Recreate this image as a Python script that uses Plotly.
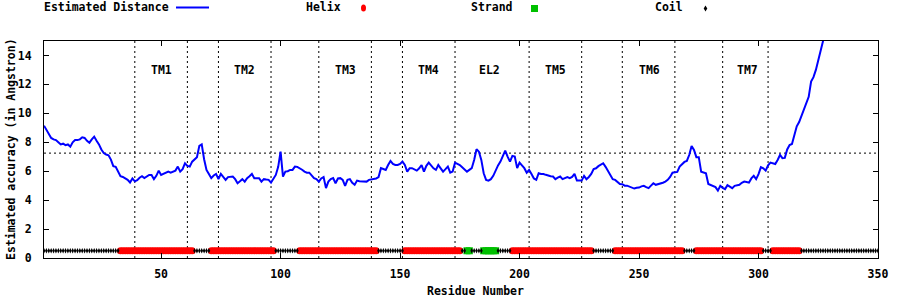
import plotly.graph_objects as go

# ---------------- data ----------------
residues = list(range(1, 329))
distance = [
    9.15, 8.85, 8.55, 8.3, 8.2, 8.15, 8.0, 7.85, 7.9, 7.8,
    7.85, 7.7, 8.0, 8.15, 8.15, 8.2, 8.34, 8.3, 8.1, 7.97,
    8.2, 8.39, 8.1, 7.85, 7.5, 7.25, 7.15, 7.1, 6.8, 6.35,
    6.3, 6.0, 5.65, 5.6, 5.52, 5.4, 5.22, 5.5, 5.3, 5.38,
    5.55, 5.65, 5.52, 5.65, 5.74, 5.74, 5.45, 5.68, 6.04, 5.74,
    5.8, 5.9, 5.97, 5.9, 5.95, 6.04, 6.32, 5.97, 6.14, 6.55,
    6.37, 6.32, 6.66, 6.8, 6.97, 7.75, 7.85, 6.83, 6.09, 5.81,
    5.52, 5.7, 5.81, 5.45, 5.81, 5.6, 5.40, 5.59, 5.6, 5.63,
    5.45, 5.17, 5.3, 5.45, 5.28, 5.52, 5.65, 5.81, 5.52, 5.52,
    5.52, 5.28, 5.45, 5.42, 5.40, 5.21, 5.5, 5.74, 6.3, 7.35,
    5.63, 5.97, 6.0, 6.09, 6.09, 6.32, 6.3, 6.21, 6.1, 5.97,
    5.9, 5.9, 5.68, 5.52, 5.45, 5.28, 5.5, 5.59, 4.83, 5.28,
    5.45, 5.52, 5.17, 5.5, 5.52, 5.40, 4.99, 5.40, 5.45, 5.2,
    5.06, 5.35, 5.3, 5.28, 5.28, 5.28, 5.40, 5.42, 5.45, 5.5,
    5.59, 6.21, 6.15, 6.09, 6.43, 6.71, 6.5, 6.43, 6.43, 6.5,
    6.66, 6.43, 5.97, 6.21, 6.21, 6.1, 6.04, 6.2, 6.43, 5.97,
    6.37, 6.59, 6.4, 6.2, 6.09, 6.43, 6.2, 5.97, 6.14, 6.32,
    5.90, 5.97, 6.59, 6.5, 6.43, 6.28, 6.1, 5.97, 6.09, 6.21,
    6.78, 7.52, 7.35, 6.78, 5.86, 5.4, 5.35, 5.45, 5.68, 6.09,
    6.4, 6.66, 7.01, 7.42, 7.01, 6.66, 7.06, 7.01, 6.21, 6.59,
    6.4, 6.21, 5.90, 6.09, 5.81, 5.5, 5.40, 5.86, 5.81, 5.81,
    5.75, 5.68, 5.65, 5.63, 5.45, 5.55, 5.63, 5.45, 5.5, 5.59,
    5.52, 5.6, 5.81, 5.35, 5.35, 5.35, 5.68, 5.45, 5.6, 5.81,
    6.14, 6.2, 6.35, 6.43, 6.55, 6.3, 6.0, 5.68, 5.45, 5.4,
    5.28, 5.12, 5.1, 5.0, 5.0, 4.94, 4.85, 4.8, 4.85, 4.87,
    4.95, 4.99, 4.9, 4.83, 5.0, 5.17, 5.06, 5.1, 5.17, 5.2,
    5.28, 5.4, 5.6, 5.90, 5.92, 5.95, 6.32, 6.5, 6.64, 6.71,
    7.12, 7.74, 7.47, 6.97, 6.97, 5.97, 5.9, 5.86, 5.12, 5.05,
    4.99, 4.9, 4.66, 4.99, 4.85, 4.76, 5.03, 4.9, 4.83, 4.99,
    5.0, 5.06, 5.2, 5.28, 5.25, 5.21, 5.5, 5.68, 5.45, 5.8,
    6.28, 6.2, 6.04, 6.4, 6.59, 6.55, 6.50, 6.78, 7.12, 6.90,
    6.92, 7.5, 7.81, 7.88, 8.6, 9.1, 9.4, 9.81, 10.2, 10.6,
    11.14, 12.2, 12.5, 13.0, 13.7, 14.4, 15.0, 15.4,
]

helix_segments = [(33, 63), (71, 97), (108, 140), (152, 175),
                  (197, 230), (240, 268), (274, 301), (306, 317)]
strand_segments = [(178, 179), (185, 190)]
coil_segments = [(1, 32), (64, 70), (98, 107), (141, 151), (176, 177),
                 (180, 184), (191, 196), (231, 239), (269, 273),
                 (302, 305), (318, 350)]
ss_level = 0.5

tm_boundaries = [39, 61, 74, 96, 116, 138, 151, 173, 204, 226, 243, 265, 285, 304]
region_labels = ["TM1", "TM2", "TM3", "TM4", "EL2", "TM5", "TM6", "TM7"]
region_label_x = [50, 85, 127, 162, 187.5, 215, 254.5, 295.5]
region_label_y = 13
threshold = 7.25

x_ticks = [50, 100, 150, 200, 250, 300, 350]
y_ticks = [0, 2, 4, 6, 8, 10, 12, 14]


def expand(segments):
    out = []
    for a, b in segments:
        out.extend(range(a, b + 1))
    return out


helix_x = expand(helix_segments)
strand_x = expand(strand_segments)
coil_x = expand(coil_segments)

# ---------------- layout helpers ----------------
FONT = "DejaVu Sans Mono"
L, T, W, H = 44, 41, 834, 217
FIG_W, FIG_H = 900, 300


def px(xp):
    return (xp - L) / W


def py(yp):
    return (T + H - yp) / H


fig = go.Figure()
fig.add_trace(go.Scatter(x=residues, y=distance, mode="lines",
                         line=dict(color="#0000ff", width=2),
                         name="Estimated Distance"))
fig.add_trace(go.Scatter(x=helix_x, y=[ss_level] * len(helix_x), mode="markers",
                         marker=dict(symbol="circle", size=7, color="#ff0000",
                                     line=dict(width=0)), name="Helix"))
fig.add_trace(go.Scatter(x=strand_x, y=[ss_level] * len(strand_x), mode="markers",
                         marker=dict(symbol="square", size=7, color="#00c000",
                                     line=dict(width=0)), name="Strand"))
fig.add_trace(go.Scatter(x=coil_x, y=[ss_level] * len(coil_x), mode="markers",
                         marker=dict(symbol="diamond-tall", size=3.8, color="#000000",
                                     line=dict(width=0)), name="Coil"))

shapes = []
for b in tm_boundaries:
    shapes.append(dict(type="line", xref="x", yref="y", x0=b, x1=b, y0=0, y1=15,
                       line=dict(color="black", width=1, dash="2px,3px"), layer="below"))
shapes.append(dict(type="line", xref="paper", yref="y", x0=0, x1=1,
                   y0=threshold, y1=threshold,
                   line=dict(color="black", width=1, dash="2px,3px"), layer="below"))

# manual gnuplot-style key (text then sample)
key_y = 7.5
shapes.append(dict(type="line", xref="paper", yref="paper",
                   x0=px(176), x1=px(209), y0=py(key_y), y1=py(key_y),
                   line=dict(color="#0000ff", width=2)))
shapes.append(dict(type="circle", xref="paper", yref="paper",
                   x0=px(361), x1=px(366), y0=py(4.5), y1=py(11.5),
                   fillcolor="#ff0000", line=dict(width=0)))
shapes.append(dict(type="rect", xref="paper", yref="paper",
                   x0=px(531), x1=px(538), y0=py(5), y1=py(12),
                   fillcolor="#00c000", line=dict(width=0)))
shapes.append(dict(type="path", xref="paper", yref="paper",
                   path=(f"M {px(705.5)},{py(5.5)} L {px(707.3)},{py(8.5)} "
                         f"L {px(705.5)},{py(11.5)} L {px(703.7)},{py(8.5)} Z"),
                   fillcolor="#000000", line=dict(width=0)))

annotations = []
for lab, xv in zip(region_labels, region_label_x):
    annotations.append(dict(x=xv, y=region_label_y, xref="x", yref="y", text=lab,
                            showarrow=False,
                            font=dict(family=FONT, size=11.5, color="black", weight="bold")))

key_texts = [("Estimated Distance", 42), ("Helix", 304), ("Strand", 469), ("Coil", 653)]
for txt, xp in key_texts:
    annotations.append(dict(x=px(xp), y=py(key_y), xref="paper", yref="paper", text=txt,
                            showarrow=False, xanchor="left", yanchor="middle",
                            font=dict(family=FONT, size=11.5, color="black", weight="bold")))

annotations.append(dict(x=px(475), y=py(291), xref="paper", yref="paper",
                        text="Residue Number", showarrow=False,
                        xanchor="center", yanchor="middle",
                        font=dict(family=FONT, size=11.5, color="black", weight="bold")))
annotations.append(dict(x=px(11), y=py(149), xref="paper", yref="paper",
                        text="Estimated accuracy (in Angstron)", showarrow=False,
                        textangle=-90, xanchor="center", yanchor="middle",
                        font=dict(family=FONT, size=11.5, color="black", weight="bold")))

tickfont = dict(family=FONT, size=11.5, color="black", weight="bold")
fig.update_layout(
    width=FIG_W, height=FIG_H,
    margin=dict(l=L, r=FIG_W - L - W, t=T, b=FIG_H - T - H, pad=0),
    paper_bgcolor="white", plot_bgcolor="white",
    showlegend=False,
    shapes=shapes, annotations=annotations,
    xaxis=dict(range=[1, 350], tickvals=x_ticks, ticks="inside", ticklen=5,
               tickcolor="black", showline=True, linecolor="black", linewidth=1,
               mirror="ticks", showgrid=False, zeroline=False, tickfont=tickfont,
               ticklabelstandoff=5),
    yaxis=dict(range=[0, 15], tickvals=y_ticks, ticks="inside", ticklen=5,
               tickcolor="black", showline=True, linecolor="black", linewidth=1,
               mirror="ticks", showgrid=False, zeroline=False, tickfont=tickfont,
               ticklabelstandoff=9),
)

fig.write_html("out.html")
